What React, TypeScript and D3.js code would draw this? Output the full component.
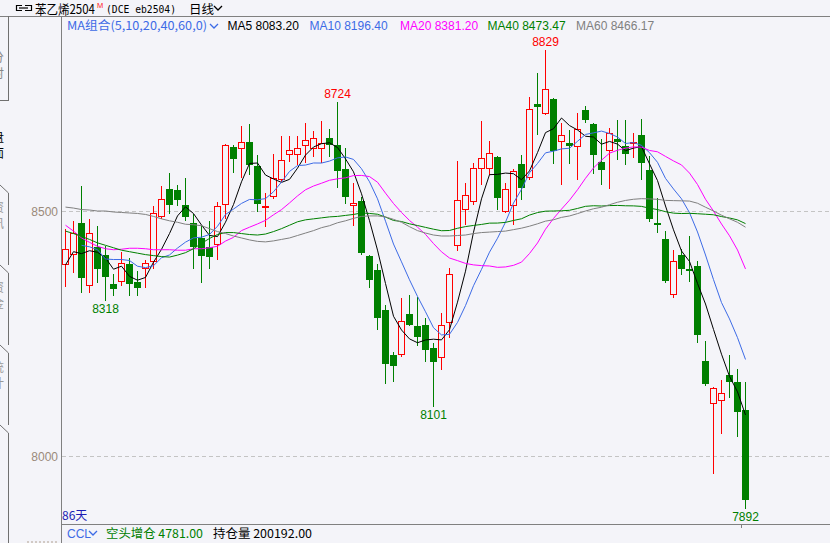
import React from "react";
import * as d3 from "d3";

const W = 830;
const H = 543;

// ---- candle data (86 daily bars) ----
const opens = [8391, 8411, 8476, 8348, 8428, 8411, 8353, 8356, 8392, 8356, 8382, 8397, 8489, 8546, 8543, 8514, 8477, 8445, 8428, 8431, 8514, 8631, 8628, 8641, 8592, 8507, 8530, 8565, 8616, 8616, 8634, 8628, 8628, 8650, 8635, 8586, 8512, 8522, 8410, 8380, 8300, 8208, 8208, 8290, 8267, 8269, 8222, 8201, 8273, 8430, 8503, 8519, 8587, 8586, 8612, 8499, 8511, 8596, 8568, 8720, 8698, 8730, 8642, 8640, 8632, 8708, 8678, 8601, 8623, 8647, 8633, 8638, 8657, 8584, 8476, 8443, 8330, 8412, 8382, 8388, 8194, 8108, 8114, 8167, 8153, 8094];
const highs = [8465, 8480, 8553, 8484, 8471, 8429, 8373, 8418, 8406, 8378, 8402, 8511, 8552, 8578, 8555, 8569, 8494, 8470, 8480, 8519, 8638, 8636, 8674, 8678, 8616, 8538, 8618, 8655, 8654, 8655, 8681, 8665, 8684, 8669, 8724, 8629, 8559, 8529, 8412, 8392, 8310, 8214, 8324, 8330, 8326, 8283, 8232, 8292, 8384, 8603, 8559, 8599, 8684, 8643, 8614, 8559, 8586, 8615, 8734, 8783, 8829, 8732, 8681, 8667, 8701, 8716, 8680, 8648, 8671, 8686, 8686, 8661, 8689, 8614, 8528, 8461, 8422, 8424, 8451, 8398, 8235, 8142, 8157, 8208, 8178, 8153];
const lows = [8345, 8375, 8334, 8334, 8354, 8318, 8327, 8348, 8327, 8327, 8344, 8382, 8484, 8494, 8511, 8480, 8382, 8354, 8382, 8402, 8484, 8578, 8568, 8575, 8499, 8468, 8525, 8560, 8601, 8595, 8599, 8611, 8599, 8612, 8548, 8515, 8470, 8411, 8343, 8258, 8147, 8152, 8203, 8266, 8225, 8192, 8101, 8176, 8242, 8419, 8473, 8514, 8555, 8575, 8504, 8497, 8473, 8523, 8564, 8657, 8696, 8596, 8555, 8596, 8564, 8680, 8576, 8555, 8546, 8606, 8594, 8610, 8565, 8478, 8457, 8354, 8324, 8371, 8356, 8232, 8143, 7965, 8046, 8120, 8039, 7892];
const closes = [8424, 8457, 8364, 8457, 8382, 8367, 8341, 8395, 8353, 8343, 8395, 8497, 8526, 8514, 8523, 8488, 8428, 8409, 8408, 8511, 8635, 8608, 8641, 8595, 8516, 8512, 8568, 8606, 8626, 8630, 8646, 8650, 8640, 8635, 8582, 8530, 8518, 8416, 8360, 8282, 8189, 8184, 8276, 8269, 8243, 8217, 8192, 8269, 8373, 8524, 8533, 8589, 8610, 8620, 8527, 8546, 8583, 8548, 8710, 8714, 8750, 8623, 8657, 8633, 8669, 8686, 8615, 8584, 8661, 8642, 8618, 8642, 8599, 8485, 8472, 8358, 8399, 8383, 8378, 8248, 8148, 8140, 8130, 8152, 8090, 7912];

// moving-average values for the first bars (history before the window)
const ma5Early = [8391, 8418, 8414, 8420];
const ma10Early = [null, null, 8431, 8428, 8422, 8403, 8402, 8402, 8400];
const ma20Early = [8472, 8460, 8446, 8437, 8429, 8424, 8422, 8423, 8425, 8425, 8424, 8422, 8422, 8422, 8421, 8421, 8424, 8424, 8426];
const ma40Early = [8460, 8455, 8449, 8443, 8436, 8431, 8426, 8421, 8418, 8415, 8412, 8410, 8408, 8407, 8411, 8416, 8424, 8435, 8445, 8453, 8457, 8457, 8455, 8453, 8452, 8454, 8459, 8465, 8472, 8479, 8483, 8485, 8487, 8489, 8490, 8492, 8494, 8497, 8496];
const ma60Early = [8509, 8507, 8504, 8503, 8501, 8501, 8499, 8498, 8497, 8496, 8494, 8490, 8485, 8481, 8478, 8474, 8473, 8471, 8465, 8459, 8455, 8450, 8446, 8442, 8439, 8438, 8440, 8443, 8446, 8451, 8456, 8461, 8467, 8471, 8477, 8481, 8486, 8490, 8491, 8491, 8489, 8484, 8478, 8469, 8461, 8456, 8452, 8450, 8450, 8451, 8452, 8455, 8457, 8458, 8459, 8460, 8463, 8466, 8470];

const yTicks = [8500, 8000];
const maPeriods = [5, 10, 20, 40, 60];
const maColors = ["#000000", "#3d6be6", "#ff00ff", "#008000", "#808080"];
const maLegend = ["MA5 8083.20", "MA10 8196.40", "MA20 8381.20", "MA40 8473.47", "MA60 8466.17"];
const maLegendX = [227.5, 309.5, 400, 487.5, 576];
const extremeLabels = [
  { i: 5, kind: "low", text: "8318" },
  { i: 34, kind: "high", text: "8724" },
  { i: 46, kind: "low", text: "8101" },
  { i: 60, kind: "high", text: "8829" },
  { i: 85, kind: "low", text: "7892" },
];
const tabGlyphs = [
  { t: "分", y: 62, c: "#888" },
  { t: "时", y: 78, c: "#888" },
  { t: "盘", y: 142, c: "#000" },
  { t: "面", y: 158, c: "#000" },
  { t: "资", y: 212, c: "#999" },
  { t: "讯", y: 228, c: "#999" },
  { t: "资", y: 292, c: "#999" },
  { t: "金", y: 308, c: "#999" },
  { t: "统", y: 372, c: "#999" },
  { t: "计", y: 388, c: "#999" },
];

const BG = "#f4f4f9";
const UP = "#ff0000";
const DOWN = "#008000";
const LATIN = "'Liberation Sans', Arial, sans-serif";
const CJK = "'Noto Sans CJK SC', 'Liberation Sans', sans-serif";

function movingAverage(n: number, early: (number | null)[]): (number | null)[] {
  return closes.map((_, i) => {
    if (i >= n - 1) {
      return d3.mean(closes.slice(i - n + 1, i + 1)) as number;
    }
    return early[i] ?? null;
  });
}

export default function App() {
  const x = d3.scaleLinear().domain([0, 85]).range([65.5, 745.5]);
  const y = d3.scaleLinear().domain([8000, 8500]).range([456.5, 211.5]);

  const earlies = [ma5Early, ma10Early, ma20Early, ma40Early, ma60Early];
  const maSeries = maPeriods.map((n, k) => movingAverage(n, earlies[k]));

  const line = d3
    .line<number | null>()
    .defined((d) => d != null)
    .x((_, i) => x(i))
    .y((d) => y(d as number));

  const candles = closes.map((c, i) => {
    const o = opens[i];
    const h = highs[i];
    const l = lows[i];
    const cx = x(i);
    const yTop = Math.round(y(Math.max(o, c)));
    let yBot = Math.round(y(Math.min(o, c)));
    if (yBot - yTop < 1) yBot = yTop + 1;
    const yH = Math.round(y(h));
    const yL = Math.round(y(l));
    if (c > o) {
      return (
        <g key={i} stroke={UP} strokeWidth={1}>
          {yH < yTop && <line x1={cx} x2={cx} y1={yH} y2={yTop} />}
          {yL > yBot && <line x1={cx} x2={cx} y1={yBot} y2={yL} />}
          <rect x={cx - 3} y={yTop + 0.5} width={6} height={Math.max(1, yBot - yTop - 1)} fill={BG} />
        </g>
      );
    }
    return (
      <g key={i}>
        <line x1={cx} x2={cx} y1={yH} y2={yL} stroke={DOWN} strokeWidth={1} />
        <rect x={cx - 3.5} y={yTop} width={7} height={yBot - yTop} fill={DOWN} />
      </g>
    );
  });

  const chevron = (x0: number, y0: number, color: string) => (
    <polyline
      points={`${x0},${y0} ${x0 + 4},${y0 + 4} ${x0 + 8},${y0}`}
      fill="none"
      stroke={color}
      strokeWidth={1.3}
    />
  );

  return (
    <svg
      width={W}
      height={H}
      style={{ position: "absolute", left: 0, top: 0, display: "block" }}
      xmlns="http://www.w3.org/2000/svg"
    >
      <rect x={0} y={0} width={W} height={H} fill={BG} />

      {/* header */}
      <g stroke="#000" strokeWidth={1.2} fill="none">
        <path d="M22,5.5 H16.5 V10.5 H22" />
        <path d="M25,5.5 H31.5 V10.5 H25" />
        <path d="M19,8 H28" />
      </g>
      <text x={35} y={13.5} fontFamily={CJK} fontSize={13} fill="#000" textLength={60} lengthAdjust="spacingAndGlyphs">
        苯乙烯2504
      </text>
      <text x={97} y={7.5} fontFamily={LATIN} fontSize={7.5} fill="#ff2020">
        M
      </text>
      <text x={106} y={13} fontFamily="'DejaVu Sans Mono', monospace" fontSize={11} fill="#000" textLength={70} lengthAdjust="spacingAndGlyphs">
        (DCE eb2504)
      </text>
      <text x={189} y={13.5} fontFamily={CJK} fontSize={12.5} fill="#000">
        日线
      </text>
      {chevron(214, 6, "#000")}
      <line x1={0} x2={W} y1={16.5} y2={16.5} stroke="#808080" />

      {/* left tab strip */}
      <g stroke="#707070" fill="none">
        <line x1={8.5} x2={8.5} y1={16} y2={101} />
        <line x1={0} x2={8.5} y1={100.5} y2={100.5} />
        <path d="M0,185 L8.5,193 V265 M0,265 L8.5,273 V345 M0,345 L8.5,353 V425 M0,425 L8.5,433 V543" />
      </g>
      <g fontFamily={CJK} fontSize={12}>
        {tabGlyphs.map((g, k) => (
          <text key={k} x={-8} y={g.y} fill={g.c}>
            {g.t}
          </text>
        ))}
      </g>

      {/* legend row */}
      <text x={67} y={29.5} fontFamily={CJK} fontSize={12} fill="#3d6be6" textLength={140} lengthAdjust="spacingAndGlyphs">
        MA组合(5,10,20,40,60,0)
      </text>
      {chevron(210, 24, "#3d6be6")}
      {maLegend.map((t, k) => (
        <text key={t} x={maLegendX[k]} y={29.5} fontFamily={LATIN} fontSize={12} fill={maColors[k]}>
          {t}
        </text>
      ))}

      {/* axes frame */}
      <line x1={61.5} x2={61.5} y1={17} y2={H} stroke="#808080" />
      <line x1={62} x2={W} y1={524.5} y2={524.5} stroke="#808080" />
      <line x1={741.5} x2={741.5} y1={525} y2={528} stroke="#808080" />

      {/* y grid + labels */}
      {yTicks.map((t) => (
        <g key={t}>
          <line
            x1={62}
            x2={W}
            y1={Math.floor(y(t)) + 0.5}
            y2={Math.floor(y(t)) + 0.5}
            stroke="#c4c4c4"
            strokeDasharray="4,3"
          />
          <text x={58} y={y(t) + 4.5} textAnchor="end" fontFamily={LATIN} fontSize={12} fill="#9a8a7a">
            {t}
          </text>
        </g>
      ))}
      <line x1={27} x2={57} y1={542} y2={542} stroke="#b0a090" strokeDasharray="2,2" />

      {/* candles */}
      <g shapeRendering="crispEdges">{candles}</g>

      {/* moving averages */}
      {maSeries.map((s, k) => (
        <path key={k} d={line(s) || ""} fill="none" stroke={maColors[k]} strokeWidth={1} />
      ))}

      {/* extreme labels */}
      {extremeLabels.map((e) => {
        const isHigh = e.kind === "high";
        const yy = isHigh ? y(highs[e.i]) - 4 : y(lows[e.i]) + 12;
        return (
          <text
            key={e.text}
            x={x(e.i)}
            y={yy}
            textAnchor="middle"
            fontFamily={LATIN}
            fontSize={12}
            fill={isHigh ? "#ff0000" : "#008000"}
          >
            {e.text}
          </text>
        );
      })}

      {/* bottom info */}
      <text x={62} y={519.5} fontFamily={CJK} fontSize={12} fill="#1c1cb4">
        86天
      </text>
      <text x={67} y={537.5} fontFamily={LATIN} fontSize={12} fill="#3d6be6">
        CCL
      </text>
      {chevron(89, 531, "#3d6be6")}
      <text x={106} y={537.5} fontFamily={CJK} fontSize={12} fill="#008000" textLength={97} lengthAdjust="spacingAndGlyphs">
        空头增仓 4781.00
      </text>
      <text x={213} y={537.5} fontFamily={CJK} fontSize={12} fill="#000" textLength={99} lengthAdjust="spacingAndGlyphs">
        持仓量 200192.00
      </text>
    </svg>
  );
}
